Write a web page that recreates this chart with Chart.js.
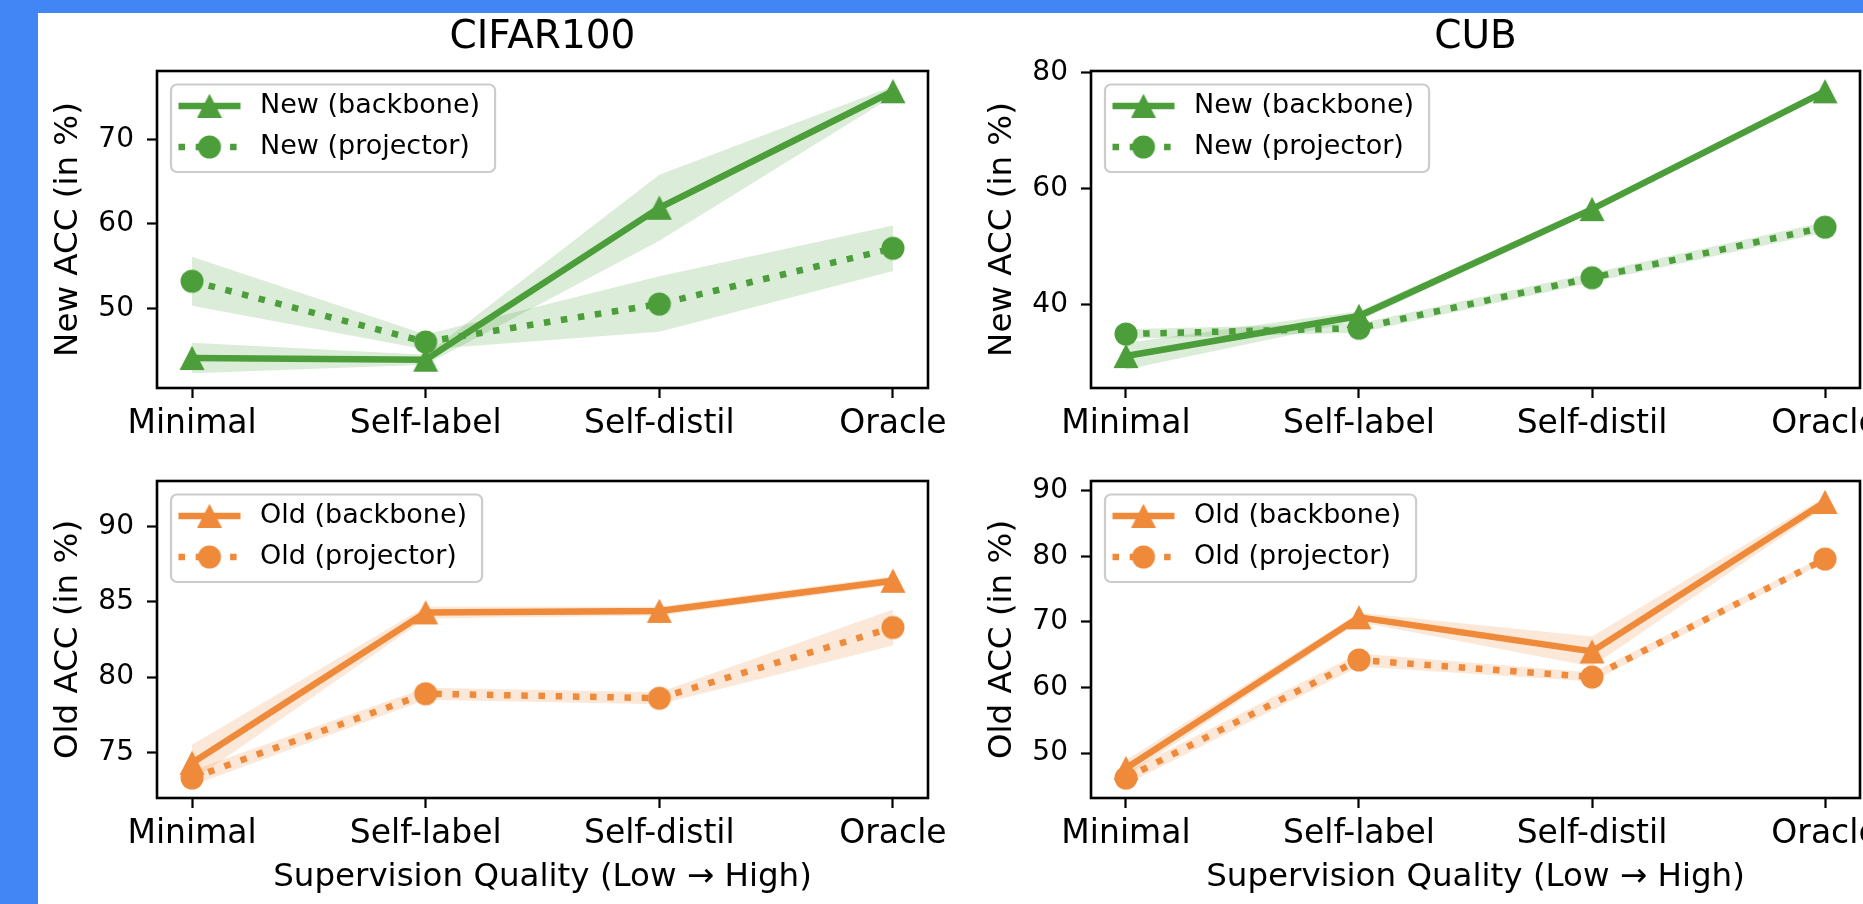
<!DOCTYPE html>
<html>
<head>
<meta charset="utf-8">
<script src="https://cdn.jsdelivr.net/npm/chart.js@4.4.1/dist/chart.umd.min.js"></script>
<style>
  html, body { margin: 0; padding: 0; }
  body { width: 1863px; height: 904px; background: #4285f4; overflow: hidden; position: relative; }
  #sheet { position: absolute; left: 38px; top: 13px; right: 0; bottom: 0; background: #fff; }
  canvas { position: absolute; }
</style>
</head>
<body>
<div id="sheet"></div>
<canvas id="cifarNew" style="left:40px;top:12px;width:928px;height:438px" width="928" height="438"></canvas>
<canvas id="cubNew" style="left:974px;top:12px;width:926px;height:438px" width="926" height="438"></canvas>
<canvas id="cifarOld" style="left:40px;top:450px;width:928px;height:454px" width="928" height="454"></canvas>
<canvas id="cubOld" style="left:974px;top:450px;width:926px;height:454px" width="926" height="454"></canvas>
<script>
const categories = ['Minimal', 'Self-label', 'Self-distil', 'Oracle'];

// mean and spread
const cifarNewBackbone = [44.1, 43.9, 61.9, 75.7];
const cifarNewBackboneStd = [1.8, 0.6, 3.9, 0.6];
const cifarNewProjector = [53.2, 46.0, 50.5, 57.1];
const cifarNewProjectorStd = [2.9, 0.9, 3.3, 2.7];

const cubNewBackbone = [31.2, 38.1, 56.5, 76.8];
const cubNewBackboneStd = [2.3, 0.8, 0.5, 0.5];
const cubNewProjector = [35.0, 36.0, 44.7, 53.4];
const cubNewProjectorStd = [0.8, 0.8, 0.8, 0.9];

const cifarOldBackbone = [74.3, 84.3, 84.4, 86.4];
const cifarOldBackboneStd = [1.2, 0.4, 0.3, 0.3];
const cifarOldProjector = [73.3, 78.9, 78.6, 83.3];
const cifarOldProjectorStd = [0.5, 0.4, 0.4, 1.2];

const cubOldBackbone = [47.7, 70.7, 65.5, 88.3];
const cubOldBackboneStd = [1.2, 0.7, 2.3, 0.8];
const cubOldProjector = [46.2, 64.2, 61.6, 79.6];
const cubOldProjectorStd = [1.0, 1.0, 0.7, 0.5];

const cifarNewTicks = [50, 60, 70];
const cubNewTicks = [40, 60, 80];
const cifarOldTicks = [75, 80, 85, 90];
const cubOldTicks = [50, 60, 70, 80, 90];

const GREEN = '#4c9e3a';
const ORANGE = '#ef8a3b';
const FONT = '"DejaVu Sans"';

Chart.defaults.font.family = FONT;
Chart.defaults.color = '#000';

function rgba(hex, a) {
    const n = parseInt(hex.slice(1), 16);
    return 'rgba(' + (n >> 16) + ',' + ((n >> 8) & 255) + ',' + (n & 255) + ',' + a + ')';
}

function markerImage(shape, color) {
    const c = document.createElement('canvas');
    c.width = 26;
    c.height = 26;
    const g = c.getContext('2d');
    g.fillStyle = color;
    g.beginPath();
    if (shape === 'triangle') {
        g.moveTo(13, 0.8);
        g.lineTo(25.5, 25);
        g.lineTo(0.5, 25);
        g.closePath();
    } else {
        g.arc(13, 13, 11.5, 0, Math.PI * 2);
    }
    g.fill();
    return c;
}

function points(values) {
    return values.map((v, i) => ({ x: i, y: v }));
}

function frameAndLegend(prefix, color, markers) {
    return {
        id: 'frameAndLegend',
        afterDraw(chart) {
            const { ctx, chartArea: a } = chart;
            ctx.save();
            ctx.strokeStyle = '#000';
            ctx.lineWidth = 2.6;
            ctx.strokeRect(a.left, a.top, a.right - a.left, a.bottom - a.top);

            ctx.font = '27px ' + FONT;
            const rows = [prefix + ' (backbone)', prefix + ' (projector)'];
            const tw = Math.max(...rows.map(t => ctx.measureText(t).width));
            const x = a.left + 14, y = a.top + 13.5, w = 89 + tw + 15, h = 87.5;
            ctx.beginPath();
            ctx.roundRect(x, y, w, h, 6);
            ctx.fillStyle = 'rgba(255,255,255,0.8)';
            ctx.fill();
            ctx.strokeStyle = '#cccccc';
            ctx.lineWidth = 2.2;
            ctx.stroke();

            rows.forEach((t, k) => {
                const ry = y + 21.5 + 41 * k;
                ctx.beginPath();
                ctx.strokeStyle = color;
                ctx.lineWidth = 6.5;
                ctx.lineCap = 'butt';
                ctx.setLineDash(k ? [6.5, 10.7] : []);
                ctx.moveTo(x + 7.5, ry);
                ctx.lineTo(x + 69.5, ry);
                ctx.stroke();
                ctx.setLineDash([]);
                const m = markers[k];
                ctx.drawImage(m, x + 38.5 - m.width / 2, ry - m.height / 2);
                ctx.fillStyle = '#000';
                ctx.textAlign = 'left';
                ctx.textBaseline = 'middle';
                ctx.fillText(t, x + 89, ry);
            });
            ctx.restore();
        }
    };
}

function makeChart(id, cfg) {
    const tri = markerImage('triangle', cfg.color);
    const dot = markerImage('circle', cfg.color);
    const band = rgba(cfg.color, 0.2);

    const bandSets = (mean, sd) => [
        {
            data: points(mean.map((v, i) => v - sd[i])),
            borderWidth: 0, pointRadius: 0, fill: false, order: 2
        },
        {
            data: points(mean.map((v, i) => v + sd[i])),
            borderWidth: 0, pointRadius: 0, fill: '-1', backgroundColor: band, order: 2
        }
    ];

    new Chart(document.getElementById(id), {
        type: 'line',
        data: {
            datasets: [
                ...bandSets(cfg.backbone, cfg.backboneStd),
                ...bandSets(cfg.projector, cfg.projectorStd),
                {
                    label: cfg.prefix + ' (backbone)',
                    data: points(cfg.backbone),
                    borderColor: cfg.color,
                    borderWidth: 6.5,
                    pointStyle: tri,
                    pointRadius: 12,
                    fill: false,
                    order: 1
                },
                {
                    label: cfg.prefix + ' (projector)',
                    data: points(cfg.projector),
                    borderColor: cfg.color,
                    borderWidth: 6.5,
                    borderDash: [6.5, 10.7],
                    borderCapStyle: 'butt',
                    pointStyle: dot,
                    pointRadius: 12,
                    fill: false,
                    order: 0
                }
            ]
        },
        options: {
            responsive: false,
            animation: false,
            events: [],
            tension: 0,
            layout: { padding: { left: 0, right: 40, top: cfg.top ? 0 : 31, bottom: 0 } },
            plugins: {
                legend: { display: false },
                tooltip: { enabled: false },
                title: {
                    display: !!cfg.title,
                    text: cfg.title,
                    fullSize: false,
                    color: '#000',
                    font: { size: 39, weight: 'normal' },
                    padding: { top: 2.6, bottom: 9.6 }
                }
            },
            scales: {
                x: {
                    type: 'linear',
                    min: -0.15,
                    max: 3.15,
                    afterBuildTicks: s => { s.ticks = categories.map((c, i) => ({ value: i })); },
                    afterFit: s => { s.height = cfg.top ? 62 : 106; },
                    ticks: {
                        callback: v => categories[v],
                        autoSkip: false,
                        maxRotation: 0,
                        minRotation: 0,
                        padding: 7,
                        color: '#000',
                        font: { size: 33 }
                    },
                    grid: { drawOnChartArea: false, tickLength: 10, color: '#000', tickWidth: 2.2 },
                    border: { display: false },
                    title: {
                        display: !!cfg.xLabel,
                        text: cfg.xLabel,
                        color: '#000',
                        font: { size: 32.5 },
                        padding: { top: 0, bottom: 6.5 }
                    }
                },
                y: {
                    type: 'linear',
                    min: cfg.yMin,
                    max: cfg.yMax,
                    afterBuildTicks: s => { s.ticks = cfg.yTicks.map(v => ({ value: v })); },
                    afterFit: s => { s.width = 117; },
                    ticks: { padding: 13, color: '#000', font: { size: 28 } },
                    grid: { drawOnChartArea: false, tickLength: 10, color: '#000', tickWidth: 2.2 },
                    border: { display: false },
                    title: {
                        display: true,
                        text: cfg.yLabel,
                        color: '#000',
                        font: { size: 32.5 },
                        padding: { top: 9.5, bottom: 0 }
                    }
                }
            }
        },
        plugins: [frameAndLegend(cfg.prefix, cfg.color, [tri, dot])]
    });
}

makeChart('cifarNew', {
    title: 'CIFAR100', top: true, prefix: 'New', color: GREEN,
    yLabel: 'New ACC (in %)', yMin: 40.55, yMax: 78.1, yTicks: cifarNewTicks,
    backbone: cifarNewBackbone, backboneStd: cifarNewBackboneStd,
    projector: cifarNewProjector, projectorStd: cifarNewProjectorStd
});

makeChart('cubNew', {
    title: 'CUB', top: true, prefix: 'New', color: GREEN,
    yLabel: 'New ACC (in %)', yMin: 25.7, yMax: 80.3, yTicks: cubNewTicks,
    backbone: cubNewBackbone, backboneStd: cubNewBackboneStd,
    projector: cubNewProjector, projectorStd: cubNewProjectorStd
});

makeChart('cifarOld', {
    top: false, prefix: 'Old', color: ORANGE,
    yLabel: 'Old ACC (in %)', xLabel: 'Supervision Quality (Low \u2192 High)',
    yMin: 71.97, yMax: 93.03, yTicks: cifarOldTicks,
    backbone: cifarOldBackbone, backboneStd: cifarOldBackboneStd,
    projector: cifarOldProjector, projectorStd: cifarOldProjectorStd
});

makeChart('cubOld', {
    top: false, prefix: 'Old', color: ORANGE,
    yLabel: 'Old ACC (in %)', xLabel: 'Supervision Quality (Low \u2192 High)',
    yMin: 43.15, yMax: 91.5, yTicks: cubOldTicks,
    backbone: cubOldBackbone, backboneStd: cubOldBackboneStd,
    projector: cubOldProjector, projectorStd: cubOldProjectorStd
});
</script>
</body>
</html>
